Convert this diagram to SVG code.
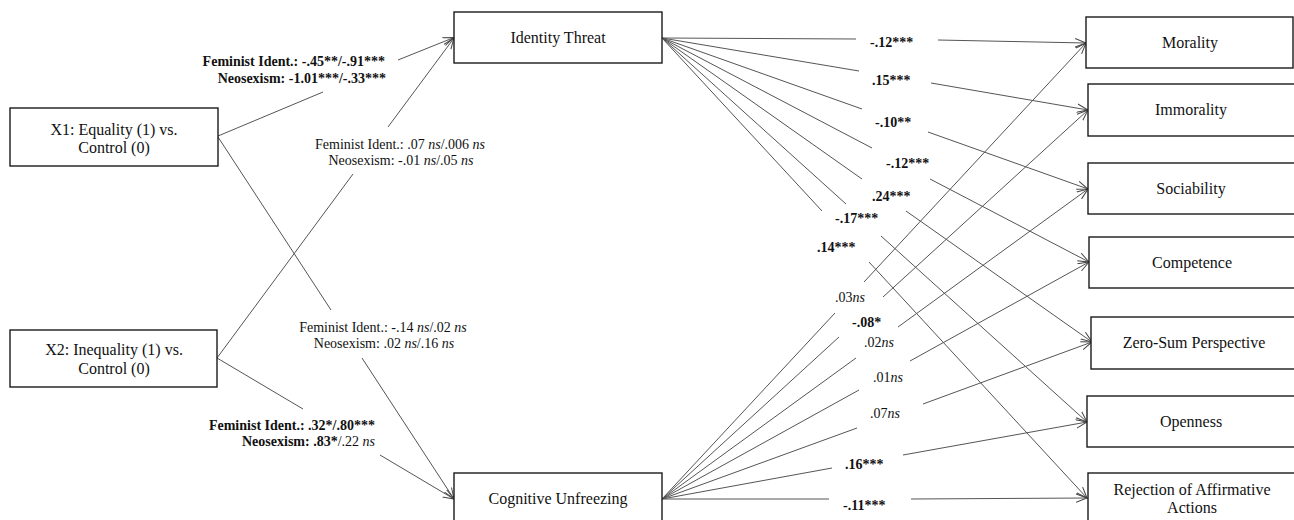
<svg xmlns="http://www.w3.org/2000/svg" width="1294" height="520" viewBox="0 0 1294 520" font-family="Liberation Serif, Times New Roman, serif">
<style>
.box{fill:#fff;stroke:#1a1a1a;stroke-width:1.4}
.nt{font-family:'Liberation Serif','Tinos','Times New Roman',serif;font-size:16px;fill:#111;text-anchor:middle}
.lb{font-family:'Liberation Serif','Tinos','Times New Roman',serif;font-size:14px;fill:#111}
.b{font-weight:bold}
.i{font-style:italic}
.e{stroke:#555;stroke-width:1;fill:none}
.a{marker-end:url(#arr)}
</style>
<defs>
<marker id="arr" markerUnits="userSpaceOnUse" markerWidth="14" markerHeight="12" refX="11" refY="5" orient="auto">
<path d="M0,0.8 L11,5 L0,9.2" fill="none" stroke="#444" stroke-width="1"/>
</marker>
</defs>
<g id="connectors">
<line class="e" x1="218" y1="136" x2="323" y2="92"/><line class="e a" x1="398" y1="60" x2="454" y2="37.5"/>
<line class="e" x1="217" y1="358" x2="353" y2="174"/><line class="e a" x1="388" y1="127" x2="454" y2="38"/>
<line class="e" x1="218" y1="137" x2="331" y2="310"/><line class="e a" x1="362" y1="358" x2="454" y2="499"/>
<line class="e" x1="217" y1="358" x2="303" y2="409"/><line class="e a" x1="380" y1="455" x2="454" y2="499"/>

<line class="e" x1="662" y1="38" x2="856" y2="39"/><line class="e a" x1="938" y1="40" x2="1086" y2="43"/>
<line class="e" x1="662" y1="38" x2="859" y2="71"/><line class="e a" x1="931" y1="83" x2="1088" y2="110"/>
<line class="e" x1="662" y1="38" x2="862" y2="109"/><line class="e a" x1="928" y1="132" x2="1088" y2="189"/>
<line class="e" x1="662" y1="38" x2="872" y2="148"/><line class="e a" x1="930" y1="179" x2="1089" y2="262"/>
<line class="e" x1="662" y1="38" x2="862" y2="179"/><line class="e a" x1="906" y1="211" x2="1092" y2="342"/>
<line class="e" x1="662" y1="38" x2="846" y2="204"/><line class="e a" x1="881" y1="236" x2="1087" y2="422"/>
<line class="e" x1="662" y1="38" x2="822" y2="211"/><line class="e a" x1="869" y1="262" x2="1087" y2="498"/>

<line class="e" x1="662" y1="499" x2="835" y2="313"/><line class="e a" x1="864" y1="282" x2="1086" y2="43"/>
<line class="e" x1="662" y1="499" x2="839" y2="337"/><line class="e a" x1="883" y1="297" x2="1088" y2="110"/>
<line class="e" x1="662" y1="499" x2="856" y2="358"/><line class="e a" x1="898" y1="327" x2="1088" y2="189"/>
<line class="e" x1="662" y1="499" x2="859" y2="390"/><line class="e a" x1="910" y1="361" x2="1089" y2="262"/>
<line class="e" x1="662" y1="499" x2="857" y2="428"/><line class="e a" x1="923" y1="404" x2="1092" y2="342"/>
<line class="e" x1="662" y1="499" x2="832" y2="468"/><line class="e a" x1="903" y1="455" x2="1087" y2="422"/>
<line class="e" x1="662" y1="499" x2="829" y2="499"/><line class="e a" x1="911" y1="499" x2="1087" y2="498"/>

<g id="labels">
<text class="lb b" x="385" y="66" text-anchor="end">Feminist Ident.: -.45**/-.91***</text>
<text class="lb b" x="386" y="83" text-anchor="end">Neosexism: -1.01***/-.33***</text>
<text class="lb" x="400" y="149" text-anchor="middle">Feminist Ident.: .07 <tspan class="i">ns</tspan>/.006 <tspan class="i">ns</tspan></text>
<text class="lb" x="401" y="165" text-anchor="middle">Neosexism: -.01 <tspan class="i">ns</tspan>/.05 <tspan class="i">ns</tspan></text>
<text class="lb" x="383" y="332" text-anchor="middle">Feminist Ident.: -.14 <tspan class="i">ns</tspan>/.02 <tspan class="i">ns</tspan></text>
<text class="lb" x="384" y="348" text-anchor="middle">Neosexism: .02 <tspan class="i">ns</tspan>/.16 <tspan class="i">ns</tspan></text>
<text class="lb b" x="375" y="430" text-anchor="end">Feminist Ident.: .32*/.80***</text>
<text class="lb" x="375" y="446" text-anchor="end"><tspan class="b">Neosexism: .83*</tspan>/.22 <tspan class="i">ns</tspan></text>

<text class="lb b" x="870" y="47">-.12***</text>
<text class="lb b" x="872" y="85">.15***</text>
<text class="lb b" x="875" y="127">-.10**</text>
<text class="lb b" x="886" y="168">-.12***</text>
<text class="lb b" x="872" y="201">.24***</text>
<text class="lb b" x="835" y="223">-.17***</text>
<text class="lb b" x="817" y="252">.14***</text>

<text class="lb" x="835" y="302">.03<tspan class="i">ns</tspan></text>
<text class="lb b" x="852" y="327">-.08*</text>
<text class="lb" x="864" y="347">.02<tspan class="i">ns</tspan></text>
<text class="lb" x="873" y="382">.01<tspan class="i">ns</tspan></text>
<text class="lb" x="870" y="418">.07<tspan class="i">ns</tspan></text>
<text class="lb b" x="845" y="469">.16***</text>
<text class="lb b" x="843" y="510">-.11***</text>
</g>
</g>

<g id="x1"><rect class="box" x="10" y="108" width="208" height="58"/><text class="nt" x="114" y="135">X1: Equality (1) vs.</text><text class="nt" x="114" y="153">Control (0)</text></g>
<g id="x2"><rect class="box" x="10" y="330" width="207" height="57"/><text class="nt" x="114" y="355">X2: Inequality (1) vs.</text><text class="nt" x="114" y="374">Control (0)</text></g>
<g id="identity-threat"><rect class="box" x="454" y="12" width="208" height="51"/><text class="nt" x="558" y="43">Identity Threat</text></g>
<g id="cognitive-unfreezing"><rect class="box" x="454" y="473" width="208" height="54"/><text class="nt" x="558" y="504">Cognitive Unfreezing</text></g>
<g id="morality"><rect class="box" x="1086" y="17" width="207" height="51"/><text class="nt" x="1190" y="48">Morality</text></g>
<g id="immorality"><rect class="box" x="1088" y="84" width="208" height="52"/><text class="nt" x="1191" y="115">Immorality</text></g>
<g id="sociability"><rect class="box" x="1088" y="163" width="208" height="51"/><text class="nt" x="1191" y="194">Sociability</text></g>
<g id="competence"><rect class="box" x="1089" y="237" width="208" height="51"/><text class="nt" x="1192" y="268">Competence</text></g>
<g id="zero-sum"><rect class="box" x="1091" y="317" width="208" height="52"/><text class="nt" x="1194" y="348">Zero-Sum Perspective</text></g>
<g id="openness"><rect class="box" x="1087" y="396" width="208" height="51"/><text class="nt" x="1191" y="427">Openness</text></g>
<g id="rejection"><rect class="box" x="1088" y="473" width="208" height="54"/><text class="nt" x="1192" y="495">Rejection of Affirmative</text><text class="nt" x="1192" y="513">Actions</text></g>
</svg>
